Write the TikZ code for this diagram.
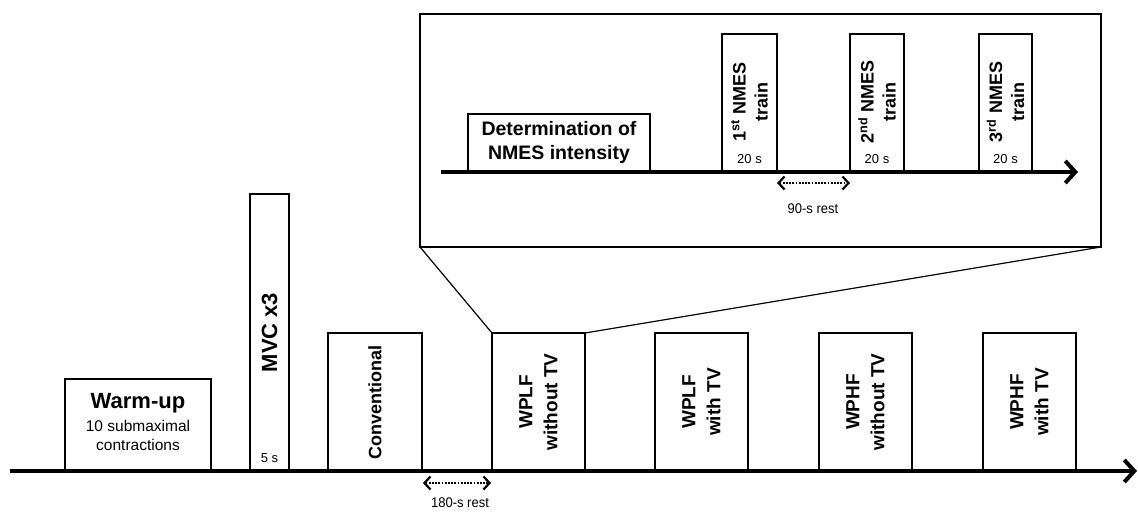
\documentclass[tikz,border=0pt]{standalone}
\usepackage{fontspec}
\setmainfont{Liberation Sans}
\newfontfamily\narrowfont[FakeStretch=0.93]{Liberation Sans}
\usetikzlibrary{arrows.meta}
\begin{document}
\begin{tikzpicture}[x=1pt,y=-1pt,
  box/.style={draw,line width=1.8pt,inner sep=0pt,outer sep=0pt,anchor=south west},
  axis/.style={line width=4pt,-{Straight Barb[length=10pt,width=22pt]}},
  rest/.style={line width=1.8pt,dash pattern=on 1.7pt off 1.5pt,{Straight Barb[length=6pt,width=13pt,line width=2.2pt]}-{Straight Barb[length=6pt,width=13pt,line width=2.2pt]}},
  vtxt/.style={rotate=90,align=center,font=\fontsize{18}{24}\selectfont\bfseries,inner sep=0pt},
  wtxt/.style={vtxt,font=\fontsize{19}{25}\selectfont\bfseries},
  smalltxt/.style={font=\fontsize{13}{15}\selectfont,inner sep=0pt},
  resttxt/.style={font=\narrowfont\fontsize{14}{17}\selectfont,inner sep=0pt}
]
\useasboundingbox (0,0) rectangle (1138,512);

% ---------- main timeline boxes ----------
\node[box,minimum width=146pt,minimum height=92pt] (warm) at (65,471) {};
\node[align=center,inner sep=0pt,font=\fontsize{15.5}{19.5}\selectfont] (warmtxt) at ([yshift=3pt]warm.center)
  {\fontsize{22}{24}\selectfont\bfseries Warm-up\\[3pt]
   10 submaximal\\
   contractions};

\node[box,minimum width=39pt,minimum height=277pt] (mvc) at (250,471) {};
\node[vtxt,font=\fontsize{22}{24}\selectfont\bfseries] (mvctxt) at (mvc.center) {MVC x3};
\node[smalltxt] (mvcs) at (269.5,458) {5 s};

\node[box,minimum width=94pt,minimum height=138pt] (conv) at (328,471) {};
\node[vtxt] (convtxt) at (conv.center) {Conventional};

\node[box,minimum width=93pt,minimum height=138pt] (wplfo) at (492,471) {};
\node[wtxt] (wplfotxt) at (wplfo.center) {WPLF\\without TV};

\node[box,minimum width=93pt,minimum height=138pt] (wplfw) at (655,471) {};
\node[wtxt] (wplfwtxt) at (wplfw.center) {WPLF\\with TV};

\node[box,minimum width=93pt,minimum height=138pt] (wphfo) at (819,471) {};
\node[wtxt] (wphfotxt) at (wphfo.center) {WPHF\\without TV};

\node[box,minimum width=93pt,minimum height=138pt] (wphfw) at (983,471) {};
\node[wtxt] (wphfwtxt) at (wphfw.center) {WPHF\\with TV};

\coordinate (axs) at (10,471);
\coordinate (axe) at (1137,471);
\draw[axis] (axs) -- (axe);

\coordinate (r1s) at (423,483);
\coordinate (r1e) at (491,483);
\draw[rest] (r1s) -- (r1e);
\node[resttxt] (r1txt) at (460,503) {180-s rest};

% ---------- inset ----------
\node[draw,line width=1.3pt,minimum width=681pt,minimum height=233pt,anchor=north west,inner sep=0pt,outer sep=0pt] (inset) at (420,14) {};
\draw[line width=1.2pt] (inset.south west) -- (wplfo.north west);
\draw[line width=1.2pt] (inset.south east) -- (wplfo.north east);

\node[box,minimum width=182pt,minimum height=58pt] (det) at (468,172) {};
\node[align=center,inner sep=0pt,font=\fontsize{19.5}{24}\selectfont\bfseries] (dettxt) at ([yshift=1pt]det.center) {Determination of\\NMES intensity};

\node[box,minimum width=55pt,minimum height=138pt] (n1) at (722,172) {};
\node[vtxt,font=\fontsize{18}{22}\selectfont\bfseries] (n1txt) at (749.5,102) {1\textsuperscript{st} NMES\\train};
\node[smalltxt] (n1s) at (749.5,159) {20 s};

\node[box,minimum width=54pt,minimum height=138pt] (n2) at (850,172) {};
\node[vtxt,font=\fontsize{18}{22}\selectfont\bfseries] (n2txt) at (877,102) {2\textsuperscript{nd} NMES\\train};
\node[smalltxt] (n2s) at (877,159) {20 s};

\node[box,minimum width=53pt,minimum height=138pt] (n3) at (979,172) {};
\node[vtxt,font=\fontsize{18}{22}\selectfont\bfseries] (n3txt) at (1005.5,102) {3\textsuperscript{rd} NMES\\train};
\node[smalltxt] (n3s) at (1005.5,159) {20 s};

\coordinate (ias) at (441,172);
\coordinate (iae) at (1078,172);
\draw[axis] (ias) -- (iae);

\coordinate (r2s) at (777,183);
\coordinate (r2e) at (850,183);
\draw[rest] (r2s) -- (r2e);
\node[resttxt] (r2txt) at (813,209) {90-s rest};
\end{tikzpicture}
\end{document}
